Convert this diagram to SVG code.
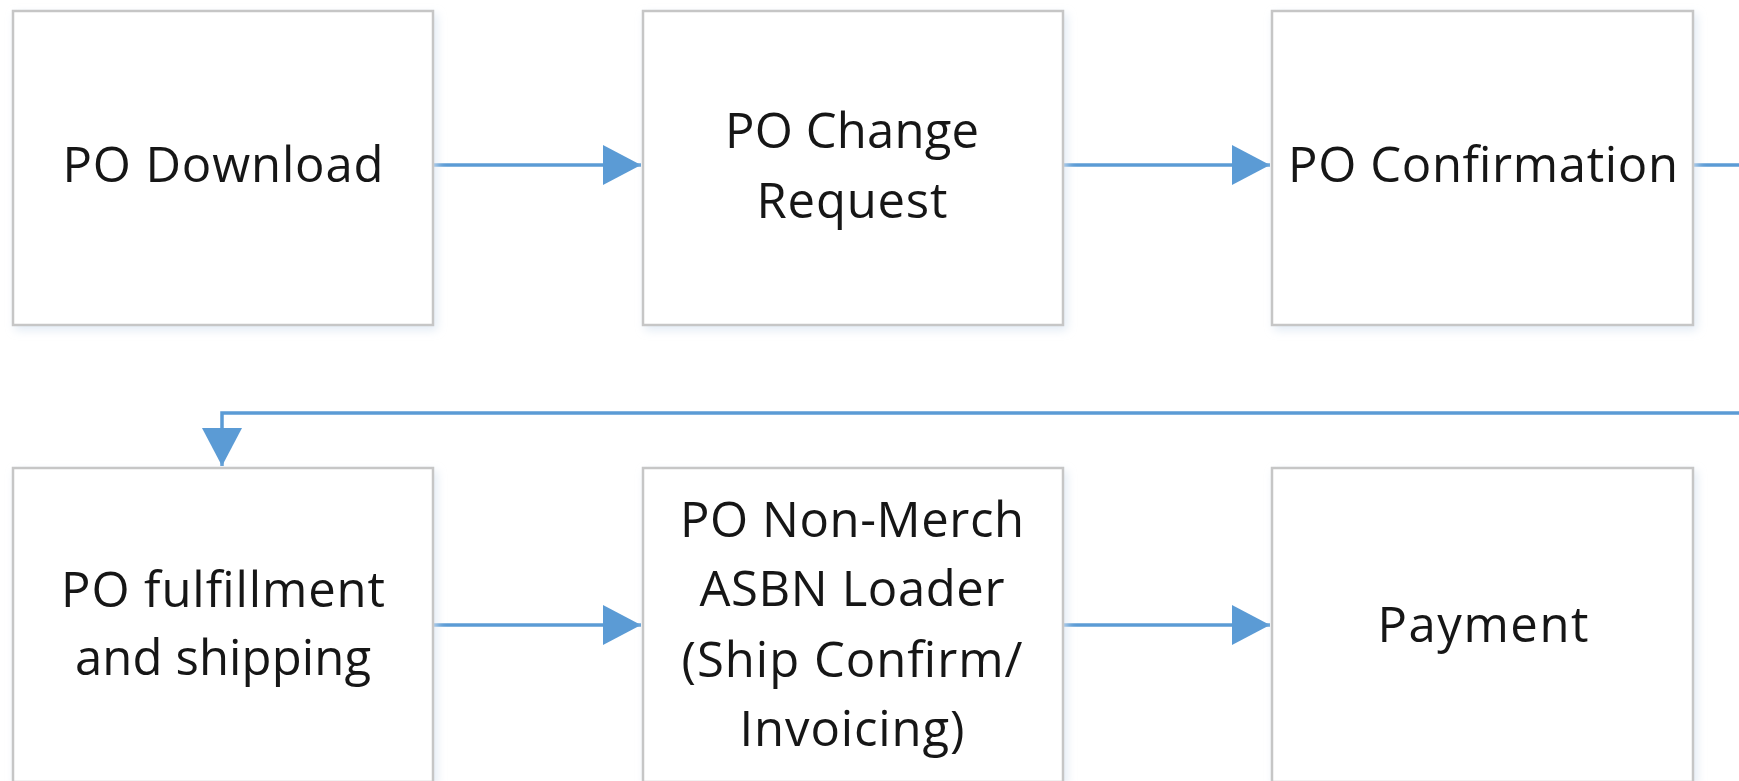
<svg xmlns="http://www.w3.org/2000/svg" width="1739" height="781" viewBox="0 0 1739 781">
<style>
.box{fill:#ffffff;stroke:#c6c6c6;stroke-width:2.5}
.lbl{font-family:"Open Sans","Liberation Sans",sans-serif;font-size:49px;fill:#161616;text-anchor:middle}
.conn{fill:none;stroke:#5b9bd5;stroke-width:3.5}
</style>
<defs>
<filter id="sh" x="-5%" y="-5%" width="112%" height="115%">
<feDropShadow dx="3" dy="4" stdDeviation="5" flood-color="#dce6f2" flood-opacity="0.8"/>
</filter>
<marker id="ah" markerUnits="userSpaceOnUse" markerWidth="40" markerHeight="42" refX="38" refY="20" orient="auto">
<path d="M0,0 L38,20 L0,40 z" fill="#5b9bd5"/>
</marker>
</defs>
<g id="connectors">
<path class="conn" d="M433,165 L641,165" marker-end="url(#ah)"/>
<path class="conn" d="M1062,165 L1270,165" marker-end="url(#ah)"/>
<path class="conn" d="M1693,165 L1760,165 L1760,413 L222,413 L222,466" marker-end="url(#ah)"/>
<path class="conn" d="M433,625 L641,625" marker-end="url(#ah)"/>
<path class="conn" d="M1062,625 L1270,625" marker-end="url(#ah)"/>
</g>
<g id="n1"><rect class="box" filter="url(#sh)" x="13" y="11" width="420" height="314"/>
<text class="lbl" x="223" y="182" textLength="321">PO Download</text></g>
<g id="n2"><rect class="box" filter="url(#sh)" x="643" y="11" width="420" height="314"/>
<text class="lbl" x="852" y="148" textLength="254">PO Change</text>
<text class="lbl" x="852" y="218" textLength="191">Request</text></g>
<g id="n3"><rect class="box" filter="url(#sh)" x="1272" y="11" width="421" height="314"/>
<text class="lbl" x="1483" y="182" textLength="390">PO Confirmation</text></g>
<g id="n4"><rect class="box" filter="url(#sh)" x="13" y="468" width="420" height="314"/>
<text class="lbl" x="223" y="607" textLength="324">PO fulfillment</text>
<text class="lbl" x="223" y="675" textLength="296">and shipping</text></g>
<g id="n5"><rect class="box" filter="url(#sh)" x="643" y="468" width="420" height="314"/>
<text class="lbl" x="852" y="537" textLength="344">PO Non-Merch</text>
<text class="lbl" x="852" y="606" textLength="305">ASBN Loader</text>
<text class="lbl" x="852" y="677" textLength="341">(Ship Confirm/</text>
<text class="lbl" x="852" y="746" textLength="225">Invoicing)</text></g>
<g id="n6"><rect class="box" filter="url(#sh)" x="1272" y="468" width="421" height="314"/>
<text class="lbl" x="1483" y="642" textLength="211">Payment</text></g>
</svg>
